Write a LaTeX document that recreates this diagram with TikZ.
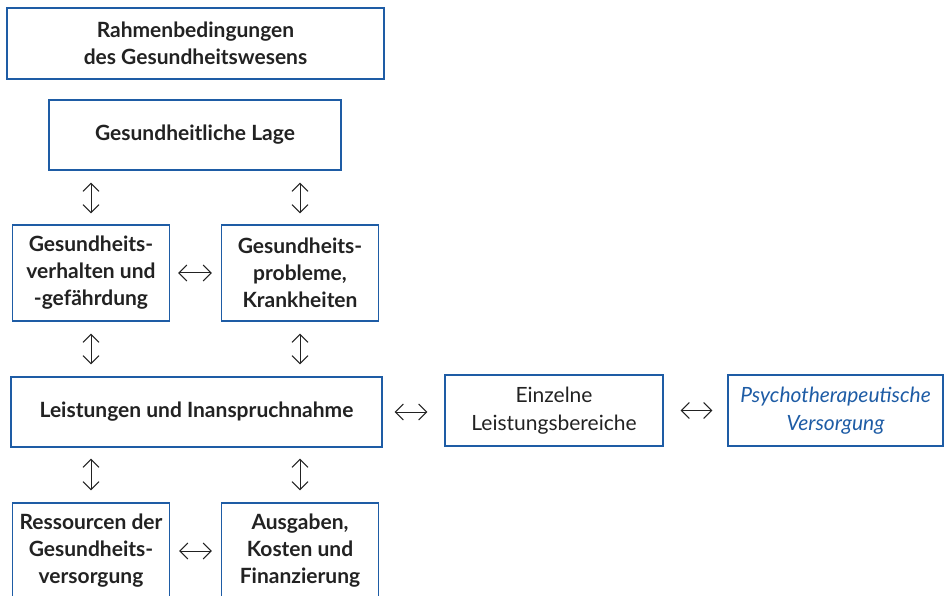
\documentclass[tikz,border=0pt]{standalone}
\usepackage{fontspec}
\setmainfont{Lato}
\usetikzlibrary{arrows.meta}

\definecolor{boxblue}{RGB}{30,92,165}
\definecolor{darktext}{RGB}{34,34,34}

\begin{document}
\begin{tikzpicture}[x=1pt, y=-1pt,
      bluebox/.style={rectangle, draw=boxblue, line width=1.3pt, align=center,
        text=darktext, font=\fontsize{21}{27}\selectfont\bfseries},
      widebox/.style={bluebox, minimum width=#1, minimum height=70},
      smallbox/.style={bluebox, minimum width=157, minimum height=96},
      link/.style={{Straight Barb[length=8pt,width=16pt]}-{Straight Barb[length=8pt,width=16pt]},
        line width=1pt, draw=darktext}]

    \useasboundingbox (0,0) rectangle (946,596);
    \clip (0,0) rectangle (946,596);

    \node[widebox=377, minimum height=71] (rahmen) at (195.5,43.5) {Rahmenbedingungen\\des Gesundheitswesens};
    \node[widebox=292] (lage) at (195,135) {Gesundheitliche Lage};

    \node[smallbox] (verhalten) at (91,273) {Gesundheits-\\verhalten und\\-gefährdung};
    \node[smallbox] (probleme)  at (300,273) {Gesundheits-\\probleme,\\Krankheiten};

    \node[widebox=371] (leistung) at (196.5,412) {Leistungen und Inanspruchnahme};
    \node[widebox=218, minimum height=71, font=\fontsize{21}{28}\selectfont] (bereiche) at (554,410.5) {Einzelne\\Leistungsbereiche};
    \node[widebox=215, minimum height=71, text=boxblue, font=\fontsize{21}{28}\selectfont\itshape] (psycho) at (835.5,410.5) {Psychotherapeutische\\Versorgung};

    \node[smallbox] (ressourcen) at (91,551) {Ressourcen der\\Gesundheits-\\versorgung};
    \node[smallbox] (ausgaben)   at (300,551) {Ausgaben,\\Kosten und\\Finanzierung};

    \draw[link, shorten <=12pt, shorten >=11pt] (lage.south -| verhalten.north) -- (verhalten.north);
    \draw[link, shorten <=12pt, shorten >=11pt] (lage.south -| probleme.north) -- (probleme.north);
    \draw[link, shorten <=8pt, shorten >=9pt] (verhalten) -- (probleme);

    \draw[link, shorten <=12pt, shorten >=12pt] (verhalten.south) -- (verhalten.south |- leistung.north);
    \draw[link, shorten <=12pt, shorten >=12pt] (probleme.south) -- (probleme.south |- leistung.north);
    \draw[link, shorten <=12pt, shorten >=17pt] (leistung.east) -- (bereiche.west |- leistung.east);
    \draw[link, shorten <=17pt, shorten >=15pt] (bereiche) -- (psycho);

    \draw[link, shorten <=11pt, shorten >=12pt] (leistung.south -| ressourcen.north) -- (ressourcen.north);
    \draw[link, shorten <=11pt, shorten >=12pt] (leistung.south -| ausgaben.north) -- (ausgaben.north);
    \draw[link, shorten <=9pt, shorten >=9pt] (ressourcen) -- (ausgaben);

  \end{tikzpicture}
\end{document}
